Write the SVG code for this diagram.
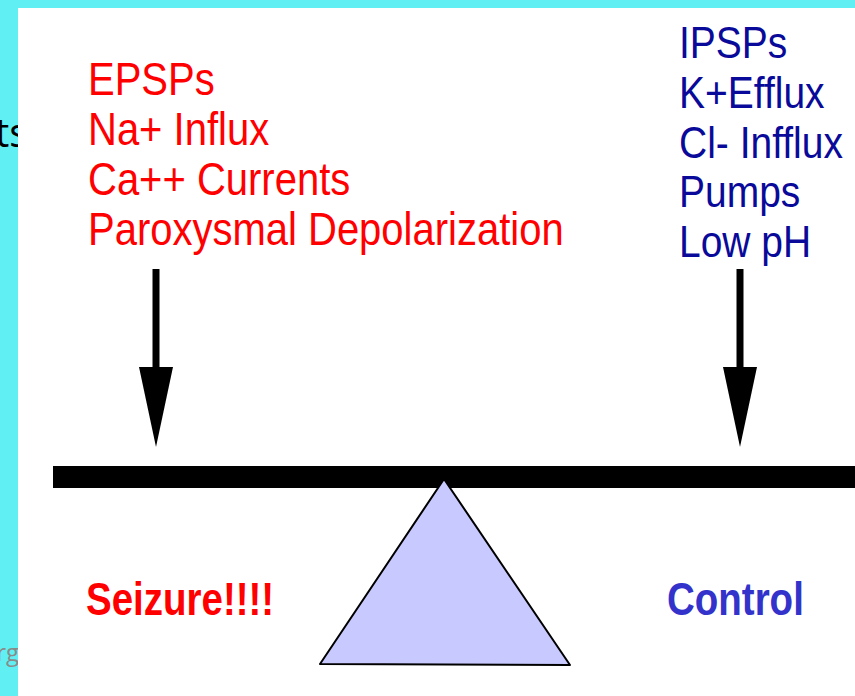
<svg xmlns="http://www.w3.org/2000/svg" width="855" height="696" viewBox="0 0 855 696">
  <style>
    .red { font-family: "Liberation Sans", Arial, sans-serif; font-size: 40px; fill: #FF0000; }
    .blue { font-family: "Liberation Sans", Arial, sans-serif; font-size: 39px; fill: #0A0A9A; }
    .bold { font-family: "Liberation Sans", Arial, sans-serif; font-size: 38.5px; font-weight: bold; }
    .conn { stroke: #000; stroke-width: 7; fill: none; }
  </style>
  <defs>
    <marker id="head" markerUnits="userSpaceOnUse" viewBox="0 -17 80 34" refX="0" refY="0" markerWidth="80" markerHeight="34" orient="auto">
      <path d="M0,-17 L80,0 L0,17 Z" fill="#000"/>
    </marker>
  </defs>
  <rect x="0" y="0" width="855" height="696" fill="#60F0F4"/>
  <text x="-5" y="147" font-family="'Open Sans', 'Liberation Sans', sans-serif" font-size="40" fill="#000">ts</text>
  <text x="19" y="661" text-anchor="end" font-family="'Open Sans', 'Liberation Sans', sans-serif" font-size="24" fill="#8A8A8A">rg</text>
  <rect x="18" y="8" width="837" height="688" fill="#FFFFFF"/>

  <g id="excitatory">
    <text class="red" transform="translate(88,95) scale(1,1.15)">EPSPs</text>
    <text class="red" transform="translate(88,145) scale(1,1.15)">Na+ Influx</text>
    <text class="red" transform="translate(88,195) scale(1,1.15)">Ca++ Currents</text>
    <text class="red" transform="translate(88,245) scale(1,1.15)">Paroxysmal Depolarization</text>
  </g>
  <g id="inhibitory">
    <text class="blue" transform="translate(679,58) scale(1,1.15)">IPSPs</text>
    <text class="blue" transform="translate(679,108) scale(1,1.15)">K+Efflux</text>
    <text class="blue" transform="translate(679,158) scale(1,1.15)">Cl- Infflux</text>
    <text class="blue" transform="translate(679,207) scale(1,1.15)">Pumps</text>
    <text class="blue" transform="translate(679,257) scale(1,1.15)">Low pH</text>
  </g>
  <g id="beam">
    <rect x="53" y="466" width="802" height="22" fill="#000"/>
  </g>
  <g id="fulcrum">
    <polygon points="444,479 320,664 570,665" fill="#C8CAFF" stroke="#000" stroke-width="2" stroke-linejoin="round"/>
  </g>
  <g id="seizure">
    <text class="bold" fill="#FF0000" transform="translate(86,615) scale(1,1.2)">Seizure!!!!</text>
  </g>
  <g id="control">
    <text class="bold" fill="#3333CC" transform="translate(667,615) scale(1,1.2)">Control</text>
  </g>
  <g id="connectors">
    <line class="conn" x1="156" y1="269" x2="156" y2="367" marker-end="url(#head)"/>
    <line class="conn" x1="740" y1="269" x2="740" y2="367" marker-end="url(#head)"/>
  </g>
</svg>
